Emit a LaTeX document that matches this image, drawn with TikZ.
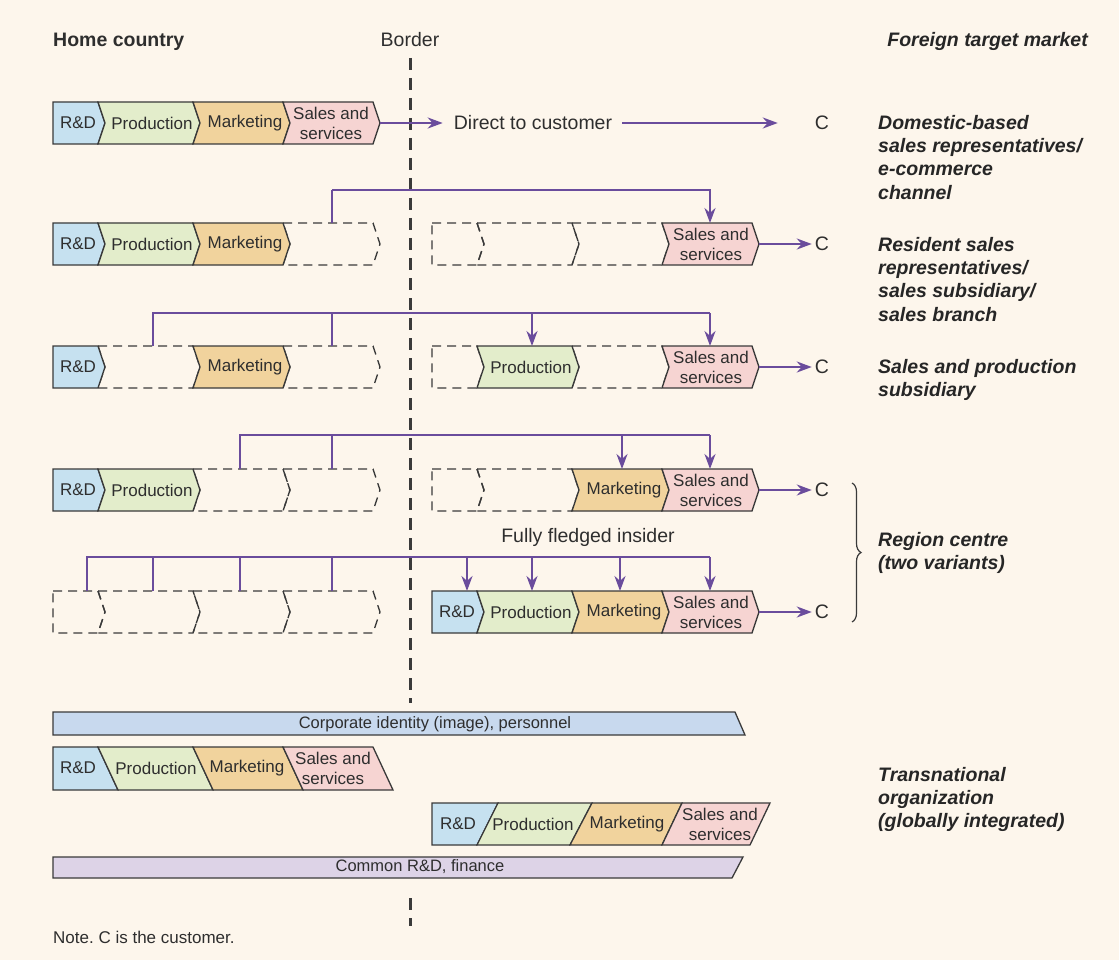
\documentclass[tikz,border=0pt]{standalone}
\usepackage{fontspec}
\setmainfont{Liberation Sans}
\usetikzlibrary{arrows.meta,decorations.pathreplacing}
\frenchspacing

\definecolor{paper}{HTML}{FDF6EC}
\definecolor{edge}{HTML}{3A3A3A}
\definecolor{ink}{HTML}{2E2E2E}
\definecolor{flow}{HTML}{6A4C9C}
\definecolor{rdcol}{HTML}{C6E1F0}
\definecolor{prodcol}{HTML}{E3EDCB}
\definecolor{mktcol}{HTML}{F1D39D}
\definecolor{salcol}{HTML}{F6D4D2}
\definecolor{corpcol}{HTML}{C8D9EE}
\definecolor{commcol}{HTML}{DDD3E7}

% chain stages: first stage has a straight left edge, the others a notch
\newcommand\headstage[4]{\path[#1] (#2,#4) -- (#3,#4) -- (#3+7,#4+21) -- (#3,#4+42) -- (#2,#4+42) -- cycle;}
\newcommand\bodystage[4]{\path[#1] (#2,#4) -- (#3,#4) -- (#3+7,#4+21) -- (#3,#4+42) -- (#2,#4+42) -- (#2+7,#4+21) -- cycle;}

\begin{document}
\begin{tikzpicture}[x=1pt,y=-1pt,
  solidstage/.style={draw=edge,line width=1.3pt,line join=miter},
  ghost/.style={draw=edge,line width=1.3pt,dash pattern=on 9pt off 6pt},
  borderline/.style={draw=edge,line width=3pt,dash pattern=on 12pt off 8pt},
  conn/.style={draw=flow,line width=2.2pt},
  flowarrow/.style={conn,-{Stealth[length=15pt,width=11pt]}},
  stagetxt/.style={font=\fontsize{17}{20}\selectfont,text=ink,inner sep=0pt,align=center},
  bartxt/.style={font=\fontsize{16.5}{18}\selectfont,text=ink,inner sep=0pt},
  plain/.style={font=\fontsize{19.5}{23}\selectfont,text=ink,inner sep=0pt},
  tag/.style={font=\fontsize{19.5}{23.3}\selectfont\bfseries\itshape,text=black!85,inner sep=0pt,align=left,anchor=north west},
  cust/.style={plain,inner sep=3pt}]

\fill[paper] (0,0) rectangle (1119,960);
\useasboundingbox (0,0) rectangle (1119,960);

% the border
\draw[borderline] (410,58) -- (410,703);
\draw[borderline] (410,898) -- (410,926);

% headings
\node[plain,anchor=base west] (home) at (53,47) {\bfseries Home country};
\node[plain,anchor=base] (bordertitle) at (410,47) {Border};
\node[plain,anchor=base east,text=black!85] (foreign) at (1088,47) {\bfseries\itshape Foreign target market};

% ---------- row 1: export from home
\headstage{solidstage,fill=rdcol}{53}{98}{102}
\bodystage{solidstage,fill=prodcol}{98}{193}{102}
\bodystage{solidstage,fill=mktcol}{193}{283}{102}
\bodystage{solidstage,fill=salcol}{283}{373}{102}
\node[stagetxt] (a1) at (78,123) {R\&D};
\node[stagetxt] (a2) at (152,123) {Production};
\node[stagetxt] (a3) at (245,123) {Marketing};
\node[stagetxt] (a4) at (331,123) {Sales and\\services};
\coordinate (tip1) at (380,123);
\node[plain] (direct) at (533,123) {Direct to customer};
\node[cust] (c1) at (822,123) {C};
\draw[flowarrow,shorten >=11pt] (tip1) -- (direct.west);
\draw[flowarrow,shorten <=10pt,shorten >=34pt] (direct.east) -- (c1.west);
\node[tag] (lab1) at (878,115) {Domestic-based\\sales representatives/\\e-commerce\\channel};

% ---------- row 2: sales abroad
\bodystage{ghost}{283}{373}{223}
\headstage{ghost}{432}{477}{223}
\bodystage{ghost}{477}{572}{223}
\bodystage{ghost}{572}{662}{223}
\headstage{solidstage,fill=rdcol}{53}{98}{223}
\bodystage{solidstage,fill=prodcol}{98}{193}{223}
\bodystage{solidstage,fill=mktcol}{193}{283}{223}
\bodystage{solidstage,fill=salcol}{662}{752}{223}
\node[stagetxt] (b1) at (78,244) {R\&D};
\node[stagetxt] (b2) at (152,244) {Production};
\node[stagetxt] (b3) at (245,244) {Marketing};
\node[stagetxt] (b4) at (711,244) {Sales and\\services};
\coordinate (p2a) at (332,223);
\coordinate (p2d) at (710,223);
\coordinate (hub2) at (332,190);
\draw[conn] (p2a) -- (hub2);
\draw[flowarrow] (hub2) -| (p2d);
\coordinate (tip2) at (759,244);
\node[cust] (c2) at (822,244) {C};
\draw[flowarrow] (tip2) -- (c2);
\node[tag] (lab2) at (878,237) {Resident sales\\representatives/\\sales subsidiary/\\sales branch};

% ---------- row 3: sales and production abroad
\bodystage{ghost}{98}{193}{346}
\bodystage{ghost}{283}{373}{346}
\headstage{ghost}{432}{477}{346}
\bodystage{ghost}{572}{662}{346}
\headstage{solidstage,fill=rdcol}{53}{98}{346}
\bodystage{solidstage,fill=mktcol}{193}{283}{346}
\bodystage{solidstage,fill=prodcol}{477}{572}{346}
\bodystage{solidstage,fill=salcol}{662}{752}{346}
\node[stagetxt] (d1) at (78,367) {R\&D};
\node[stagetxt] (d3) at (245,367) {Marketing};
\node[stagetxt] (d2) at (531,367) {Production};
\node[stagetxt] (d4) at (711,367) {Sales and\\services};
\coordinate (p3a) at (153,346);
\coordinate (p3b) at (332,346);
\coordinate (p3c) at (532,346);
\coordinate (p3d) at (710,346);
\coordinate (hub3) at (153,313);
\draw[conn] (p3a) -- (hub3) -- (hub3 -| p3d);
\draw[conn] (p3b) -- (hub3 -| p3b);
\draw[flowarrow] (hub3 -| p3c) -- (p3c);
\draw[flowarrow] (hub3 -| p3d) -- (p3d);
\coordinate (tip3) at (759,367);
\node[cust] (c3) at (822,367) {C};
\draw[flowarrow] (tip3) -- (c3);
\node[tag] (lab3) at (878,359) {Sales and production\\subsidiary};

% ---------- row 4: region centre, first variant
\bodystage{ghost}{193}{283}{469}
\bodystage{ghost}{283}{373}{469}
\headstage{ghost}{432}{477}{469}
\bodystage{ghost}{477}{572}{469}
\headstage{solidstage,fill=rdcol}{53}{98}{469}
\bodystage{solidstage,fill=prodcol}{98}{193}{469}
\bodystage{solidstage,fill=mktcol}{572}{662}{469}
\bodystage{solidstage,fill=salcol}{662}{752}{469}
\node[stagetxt] (e1) at (78,490) {R\&D};
\node[stagetxt] (e2) at (152,490) {Production};
\node[stagetxt] (e3) at (624,490) {Marketing};
\node[stagetxt] (e4) at (711,490) {Sales and\\services};
\coordinate (p4a) at (240,469);
\coordinate (p4b) at (332,469);
\coordinate (p4c) at (622,469);
\coordinate (p4d) at (710,469);
\coordinate (hub4) at (240,435);
\draw[conn] (p4a) -- (hub4) -- (hub4 -| p4d);
\draw[conn] (p4b) -- (hub4 -| p4b);
\draw[flowarrow] (hub4 -| p4c) -- (p4c);
\draw[flowarrow] (hub4 -| p4d) -- (p4d);
\coordinate (tip4) at (759,490);
\node[cust] (c4) at (822,490) {C};
\draw[flowarrow] (tip4) -- (c4);

% ---------- row 5: fully fledged insider
\headstage{ghost}{53}{98}{591}
\bodystage{ghost}{98}{193}{591}
\bodystage{ghost}{193}{283}{591}
\bodystage{ghost}{283}{373}{591}
\headstage{solidstage,fill=rdcol}{432}{477}{591}
\bodystage{solidstage,fill=prodcol}{477}{572}{591}
\bodystage{solidstage,fill=mktcol}{572}{662}{591}
\bodystage{solidstage,fill=salcol}{662}{752}{591}
\node[stagetxt] (f1) at (457,612) {R\&D};
\node[stagetxt] (f2) at (531,612) {Production};
\node[stagetxt] (f3) at (624,612) {Marketing};
\node[stagetxt] (f4) at (711,612) {Sales and\\services};
\node[plain] (insider) at (588,537) {Fully fledged insider};
\coordinate (q5a) at (87,591);
\coordinate (q5b) at (153,591);
\coordinate (q5c) at (240,591);
\coordinate (q5d) at (332,591);
\coordinate (p5a) at (467,591);
\coordinate (p5b) at (532,591);
\coordinate (p5c) at (620,591);
\coordinate (p5d) at (710,591);
\coordinate (hub5) at (87,557);
\draw[conn] (q5a) -- (hub5) -- (hub5 -| p5d);
\draw[conn] (q5b) -- (hub5 -| q5b);
\draw[conn] (q5c) -- (hub5 -| q5c);
\draw[conn] (q5d) -- (hub5 -| q5d);
\foreach \p in {p5a,p5b,p5c,p5d}
  \draw[flowarrow] (hub5 -| \p) -- (\p);
\coordinate (tip5) at (759,612);
\node[cust] (c5) at (822,612) {C};
\draw[flowarrow] (tip5) -- (c5);

% brace grouping the two region-centre variants
\draw[edge,line width=1.2pt,decorate,decoration={brace,amplitude=9pt}] (852,483) -- (852,622);
\node[tag] (lab4) at (878,532) {Region centre\\(two variants)};

% ---------- transnational organization
\path[solidstage,fill=corpcol] (53,712) -- (735,712) -- (745,735) -- (53,735) -- cycle;
\node[bartxt] (corp) at (435,724) {Corporate identity (image), personnel};

\path[solidstage,fill=rdcol] (53,747) -- (98,747) -- (118,790) -- (53,790) -- cycle;
\path[solidstage,fill=prodcol] (98,747) -- (193,747) -- (213,790) -- (118,790) -- cycle;
\path[solidstage,fill=mktcol] (193,747) -- (283,747) -- (303,790) -- (213,790) -- cycle;
\path[solidstage,fill=salcol] (283,747) -- (373,747) -- (393,790) -- (303,790) -- cycle;
\node[stagetxt] (g1) at (78,768) {R\&D};
\node[stagetxt] (g2) at (156,768) {Production};
\node[stagetxt] (g3) at (247,768) {Marketing};
\node[stagetxt] (g4) at (333,768) {Sales and\\services};

\path[solidstage,fill=rdcol] (432,803) -- (498,803) -- (477,845) -- (432,845) -- cycle;
\path[solidstage,fill=prodcol] (498,803) -- (592,803) -- (570,845) -- (477,845) -- cycle;
\path[solidstage,fill=mktcol] (592,803) -- (682,803) -- (662,845) -- (570,845) -- cycle;
\path[solidstage,fill=salcol] (682,803) -- (770,803) -- (750,845) -- (662,845) -- cycle;
\node[stagetxt] (h1) at (458,824) {R\&D};
\node[stagetxt] (h2) at (533,824) {Production};
\node[stagetxt] (h3) at (627,824) {Marketing};
\node[stagetxt] (h4) at (720,824) {Sales and\\services};

\path[solidstage,fill=commcol] (53,857) -- (743,857) -- (732,878) -- (53,878) -- cycle;
\node[bartxt] (common) at (420,867) {Common R\&D, finance};

\node[tag] (lab5) at (878,767) {Transnational\\organization\\(globally integrated)};

\node[font=\fontsize{17}{20}\selectfont,text=ink,inner sep=0pt,anchor=base west] (note) at (53,943) {Note. C is the customer.};
\end{tikzpicture}
\end{document}
